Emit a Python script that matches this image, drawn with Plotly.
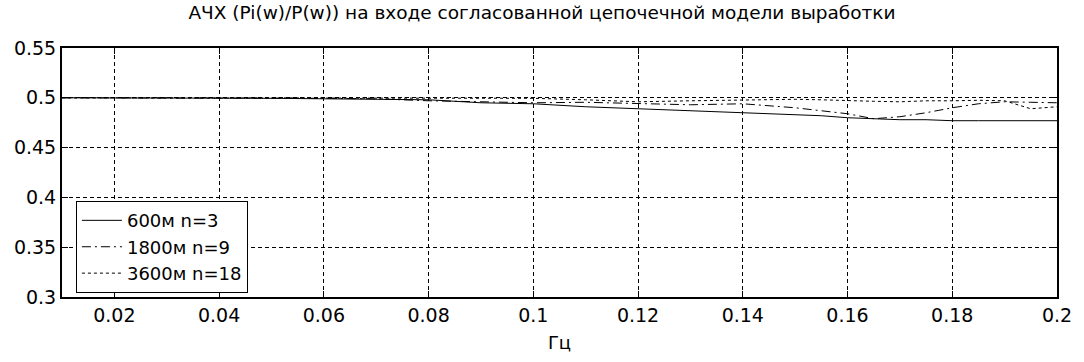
import plotly.graph_objects as go

freq = [0.01, 0.02, 0.03, 0.04, 0.05, 0.06, 0.07, 0.08, 0.09, 0.10, 0.11, 0.12,
        0.13, 0.14, 0.15, 0.155, 0.16, 0.165, 0.17, 0.175, 0.18, 0.185, 0.19, 0.195, 0.2]
s600 = [0.5, 0.5, 0.5, 0.5, 0.4995, 0.499, 0.4985, 0.498, 0.495, 0.494, 0.491, 0.489,
        0.487, 0.485, 0.483, 0.482, 0.480, 0.479, 0.478, 0.478, 0.477, 0.477, 0.477, 0.477, 0.477]
s1800 = [0.5, 0.5, 0.5, 0.5, 0.5, 0.4995, 0.499, 0.497, 0.496, 0.495, 0.4955, 0.494,
         0.493, 0.494, 0.490, 0.487, 0.484, 0.479, 0.481, 0.485, 0.490, 0.494, 0.496, 0.4955, 0.495]
s3600 = [0.5, 0.5, 0.5, 0.5, 0.5, 0.4995, 0.4995, 0.4995, 0.4995, 0.4995, 0.498, 0.496,
         0.497, 0.498, 0.4985, 0.498, 0.497, 0.4965, 0.496, 0.497, 0.497, 0.4975, 0.497, 0.489, 0.491]
names = ["600м n=3", "1800м n=9", "3600м n=18"]
dashes = ["solid", "9px,4px,2px,4px", "3px,3px"]

x_ticks = [0.02, 0.04, 0.06, 0.08, 0.1, 0.12, 0.14, 0.16, 0.18, 0.2]
y_ticks = [0.3, 0.35, 0.4, 0.45, 0.5, 0.55]

FONT = "DejaVu Sans, Verdana, sans-serif"

fig = go.Figure()
for name, ys, d in zip(names, [s600, s1800, s3600], dashes):
    fig.add_trace(go.Scatter(x=freq, y=ys, mode="lines", name=name,
                             line=dict(color="black", width=1, dash=d)))

axis_common = dict(showline=True, linecolor="black", linewidth=2, mirror="ticks",
                   ticks="inside", ticklen=6, tickcolor="black", tickwidth=1,
                   showgrid=True, gridcolor="black", gridwidth=1, griddash="4px,3px",
                   zeroline=False, tickfont=dict(size=19, color="black", family=FONT))

fig.update_layout(
    width=1084, height=362,
    margin=dict(l=62, r=24, t=48, b=63),
    paper_bgcolor="white", plot_bgcolor="white",
    font=dict(family=FONT, size=19, color="black"),
    title=dict(text="АЧХ (Pi(w)/P(w)) на входе согласованной цепочечной модели выработки",
               x=0.5, xanchor="center", y=0.965, yanchor="middle",
               font=dict(size=18.5, family=FONT, color="black")),
    xaxis=dict(range=[0.01, 0.2], tickvals=x_ticks, ticktext=[str(v) for v in x_ticks],
               title=dict(text="Гц", standoff=12, font=dict(size=18, family=FONT)),
               **axis_common),
    yaxis=dict(range=[0.3, 0.55], tickvals=y_ticks, ticktext=[str(v) for v in y_ticks],
               **axis_common),
    legend=dict(x=0.014, y=0.385, xanchor="left", yanchor="top", bgcolor="white",
                bordercolor="black", borderwidth=1, font=dict(size=18, family=FONT),
                tracegroupgap=0, itemwidth=40, entrywidth=165, entrywidthmode="pixels"),
    showlegend=True,
)

fig.write_html("out.html", config={"displayModeBar": False},
               post_script="document.body.style.margin='0';")
